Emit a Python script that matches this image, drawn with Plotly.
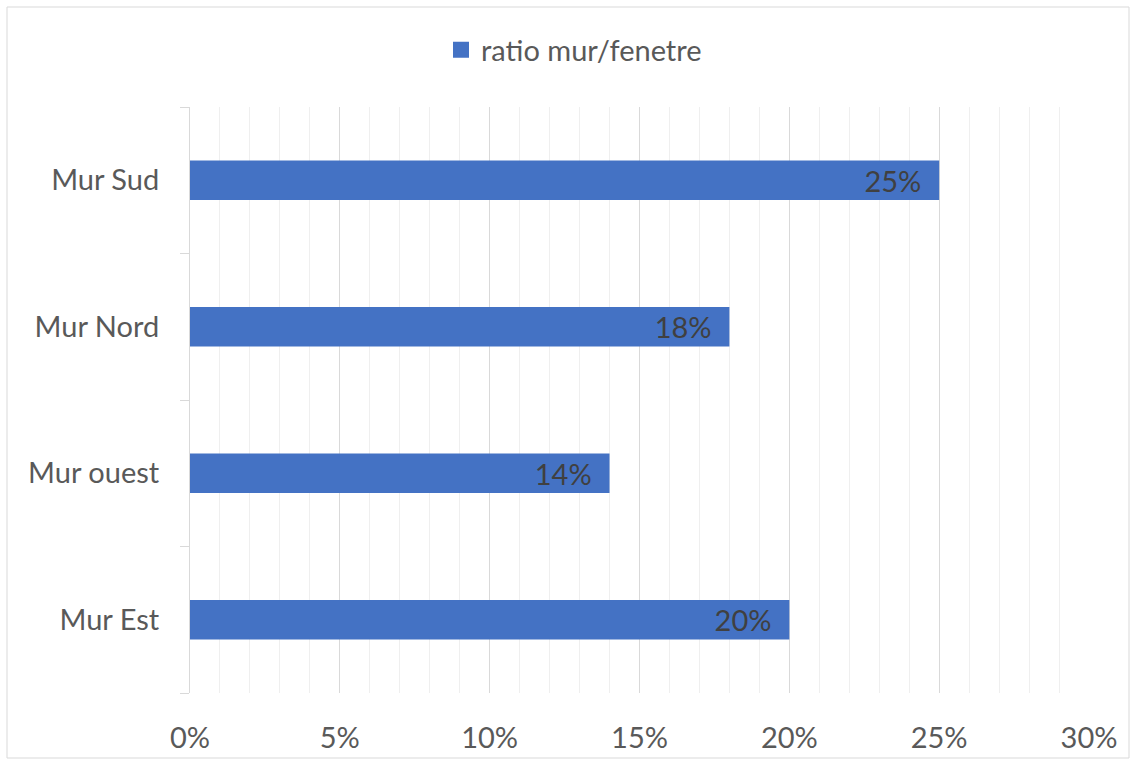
import plotly.graph_objects as go

# data (bottom to top as drawn)
categories = ["Mur Est", "Mur ouest", "Mur Nord", "Mur Sud"]
ratios = [0.20, 0.14, 0.18, 0.25]
series_name = "ratio mur/fenetre"

W, H = 1136, 765
L, R, T, B = 190, 1089, 107, 693  # plot area in pixels
BAR_COLOR = "#4472C4"


def px_x(x):
    return (x - L) / (R - L)


def px_y(y):
    return (B - y) / (B - T)


fig = go.Figure()

fig.add_trace(
    go.Bar(
        x=ratios,
        y=categories,
        orientation="h",
        name=series_name,
        showlegend=False,
        marker=dict(color=BAR_COLOR, line=dict(width=0)),
        texttemplate="%{x:.0%}\u00a0\u00a0",
        textposition="inside",
        insidetextanchor="end",
        constraintext="none",
        insidetextfont=dict(color="#404040", size=29),
        hoverinfo="skip",
    )
)

# legend entry only (bigger square key like the original)
fig.add_trace(
    go.Scatter(
        x=[None],
        y=[None],
        mode="markers",
        name=series_name,
        marker=dict(symbol="square", size=16, color=BAR_COLOR),
        hoverinfo="skip",
    )
)

# outer chart border
fig.add_shape(
    type="rect",
    xref="paper",
    yref="paper",
    x0=px_x(7),
    x1=px_x(1129),
    y0=px_y(758),
    y1=px_y(7),
    line=dict(color="#d9d9d9", width=1),
    layer="below",
)

fig.update_layout(
    width=W,
    height=H,
    margin=dict(l=L, r=W - R, t=T, b=H - B, pad=0),
    paper_bgcolor="white",
    plot_bgcolor="white",
    font=dict(family="Lato, Calibri, sans-serif", color="#595959", size=29),
    bargap=0.73,
    showlegend=True,
    legend=dict(
        orientation="h",
        x=px_x(441),
        xanchor="left",
        y=px_y(50),
        yanchor="middle",
        itemsizing="trace",
        font=dict(size=29, color="#595959"),
    ),
    xaxis=dict(
        range=[0, 0.30],
        dtick=0.05,
        tickformat=".0%",
        showgrid=True,
        gridcolor="#d9d9d9",
        gridwidth=1,
        zeroline=False,
        showline=False,
        ticks="",
        ticklabelstandoff=25,
        minor=dict(dtick=0.01, showgrid=True, gridcolor="#efefef", gridwidth=1),
        fixedrange=True,
    ),
    yaxis=dict(
        categoryorder="array",
        categoryarray=categories,
        showgrid=False,
        showline=True,
        linecolor="#d9d9d9",
        linewidth=1,
        ticks="outside",
        tickson="boundaries",
        ticklen=9,
        tickcolor="#d9d9d9",
        ticklabelstandoff=24,
        zeroline=False,
        fixedrange=True,
    ),
)

fig.write_html(
    "out.html",
    config={"displayModeBar": False},
    post_script="document.body.style.margin='0';",
)
